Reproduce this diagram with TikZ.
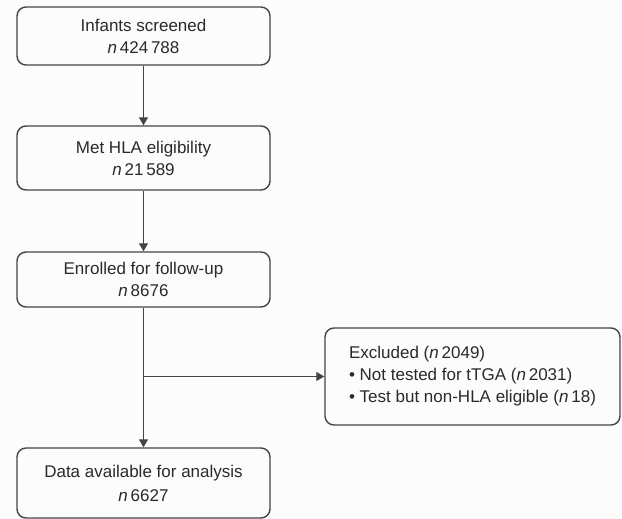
\documentclass[tikz,border=0pt]{standalone}
\usepackage{fontspec}
\setmainfont{Liberation Sans}
\usetikzlibrary{arrows.meta}
\definecolor{boxline}{HTML}{444444}
\definecolor{boxtext}{HTML}{2A2A2A}
\newcommand{\nval}[1]{\textit{n}\,#1}

\begin{document}
\begin{tikzpicture}[x=1pt,y=1pt,%1px = 1pt here
  flowbox/.style={draw=boxline, line width=1.4pt, rounded corners=9pt, minimum width=253pt, text=boxtext, align=center, font=\fontsize{17}{22}\selectfont, inner sep=0pt},
  arr/.style={draw=boxline, line width=1.2pt, -{Triangle[width=9pt,length=8pt]}}]
\fill [gray!2] (0,0) rectangle (622,-519);
\useasboundingbox (0,0) rectangle (622,-519);
\node [flowbox, minimum height=58pt] (screened) at (143.5,-36) {Infants screened\\\nval{424\,788}};
\node [flowbox, minimum height=64pt] (eligible) at (143.5,-158) {Met HLA eligibility\\\nval{21\,589}};
\node [flowbox, minimum height=55pt] (enrolled) at (143.5,-279.5) {Enrolled for follow-up\\\nval{8676}};
\node [flowbox, minimum height=70pt] (analysis) at (143.5,-483) {Data available for analysis\\[2pt]\nval{6627}};
\node [flowbox, align=left, minimum width=295pt, minimum height=97pt] (excluded) at (472.5,-376.5) {Excluded (\nval{2049})\\\textbullet\ Not tested for tTGA (\nval{2031})\\\textbullet\ Test but non-HLA eligible (\nval{18})};
\coordinate (split) at (enrolled.south |- excluded.west);
\draw [arr] (screened) -- (eligible);
\draw [arr] (eligible) -- (enrolled);
\draw [arr] (enrolled) -- (analysis);
\draw [arr] (split) -- (excluded.west);
\end{tikzpicture}
\end{document}
